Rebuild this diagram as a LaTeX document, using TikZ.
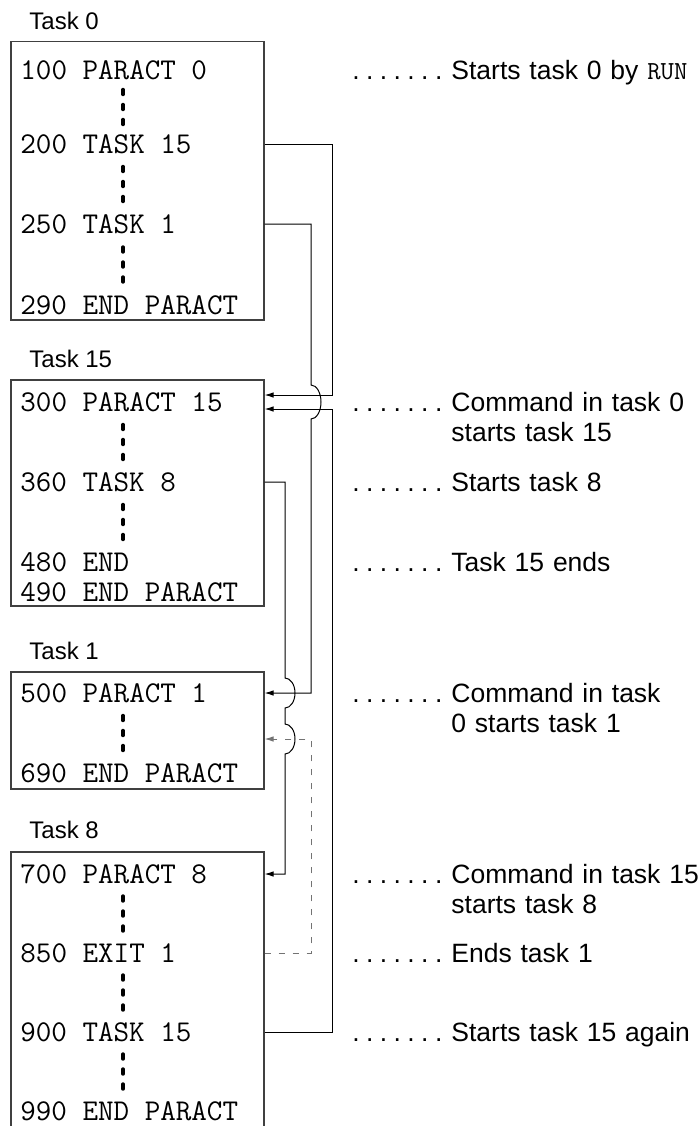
\documentclass[tikz,border=0pt]{standalone}
\usepackage{fontspec}
\newfontfamily\labelfont{Liberation Sans}
\usetikzlibrary{arrows.meta,calc,fit}
\frenchspacing

\tikzset{
  taskbox/.style={draw=black!75, line width=0.6pt, inner sep=0pt},
  code/.style={font=\ttfamily\fontsize{15.1}{18}\selectfont, anchor=west, inner sep=0pt},
  title/.style={font=\labelfont\fontsize{12}{14}\selectfont, anchor=west, inner sep=0pt},
  note/.style={font=\labelfont\fontsize{13.25}{15}\selectfont, anchor=base west, inner sep=0pt, text width=150pt, align=left},
  leader/.style={font=\labelfont\fontsize{13.25}{15}\selectfont, anchor=base west, inner sep=0pt},
  link/.style={line width=0.5pt, -{Latex[length=4.5pt,width=2.8pt]}},
  exitlink/.style={link, draw=black!55, dash pattern=on 3pt off 4pt},
  vdot/.style={line width=1.7pt, line cap=round},
}

\begin{document}
\begin{tikzpicture}[x=0.5pt, y=-0.5pt]
  \useasboundingbox (0,0) rectangle (699,1126);
  \clip (0,0) rectangle (699,1126);

  % columns of the connectors
  \coordinate (colA) at (285,0);
  \coordinate (colB) at (311,0);
  \coordinate (colC) at (332,0);

  % task 0
  \node[title] (h0) at (29,21) {Task 0};
  \node[taskbox, fit={(11,41.5) (264,320)}] (t0) {};
  \node[code] (l100) at (20,70) {100 PARACT 0};
  \node[code] (l200) at (20,144) {200 TASK 15};
  \node[code] (l250) at (20,224) {250 TASK 1};
  \node[code] (l290) at (20,305) {290 END PARACT};

  % task 15
  \node[title] (h15) at (29,359) {Task 15};
  \node[taskbox, fit={(11,380) (264,606)}] (t15) {};
  \node[code] (l300) at (20,402) {300 PARACT 15};
  \node[code] (l360) at (20,482) {360 TASK 8};
  \node[code] (l480) at (20,562) {480 END};
  \node[code] (l490) at (20,592) {490 END PARACT};

  % task 1
  \node[title] (h1) at (29,651) {Task 1};
  \node[taskbox, fit={(11,672) (264,789)}] (t1) {};
  \node[code] (l500) at (20,693) {500 PARACT 1};
  \node[code] (l690) at (20,773) {690 END PARACT};

  % task 8
  \node[title] (h8) at (29,830) {Task 8};
  \node[taskbox, fit={(11,852) (264,1140)}] (t8) {};
  \node[code] (l700) at (20,874) {700 PARACT 8};
  \node[code] (l850) at (20,953) {850 EXIT 1};
  \node[code] (l900) at (20,1032) {900 TASK 15};
  \node[code] (l990) at (20,1111) {990 END PARACT};

  % skipped lines
  \foreach \a/\b in {l100/l200, l200/l250, l250/l290, l300/l360, l360/l480, l500/l690, l700/l850, l850/l900, l900/l990}
    \foreach \k in {-15,0,15}
      \draw[vdot] ($(\a.west)!0.5!(\b.west)+(103,\k-2.5)$) -- ++(0,5);

  % comments on the right
  \foreach \n/\t in {l100/{Starts task 0 by {\ttfamily\fontsize{13}{15}\selectfont RUN}},
                     l300/{Command in task 0\\starts task 15},
                     l360/{Starts task 8},
                     l480/{Task 15 ends},
                     l500/{Command in task\\0 starts task 1},
                     l700/{Command in task 15\\starts task 8},
                     l850/{Ends task 1},
                     l900/{Starts task 15 again}}
  {
    \node[leader] (d\n) at ($(\n.west)+(332,9.5)$)
      {.\hskip3.2pt.\hskip3.2pt.\hskip3.2pt.\hskip3.2pt.\hskip3.2pt.\hskip3.2pt.};
    \node[note] (n\n) at ($(\n.west)+(431,9.5)$) {\t};
  }

  % arrow ends on the boxes
  \coordinate (p300a) at ($(l300 -| t15.east)+(0,-7)$);
  \coordinate (p300b) at ($(l300 -| t15.east)+(0,7)$);
  \coordinate (p500b) at ($(l500 -| t1.east)+(0,46)$);

  \draw[link] (l200 -| t0.east) -| (colC |- p300a) -- (p300a);
  \draw[link] (l250 -| t0.east) -| ($(colB |- l300)+(0,-17)$)
    arc[start angle=90, end angle=-90, x radius=5pt, y radius=8.5pt] |- (l500 -| t1.east);
  \draw[link] (l360 -| t15.east) -| ($(colA |- l500)+(0,-15)$)
    arc[start angle=90, end angle=-90, x radius=5pt, y radius=7.5pt]
    -- ($(colA |- p500b)+(0,-15)$)
    arc[start angle=90, end angle=-90, x radius=5pt, y radius=7.5pt] |- (l700 -| t8.east);
  \draw[exitlink] (l850 -| t8.east) -| (colB |- p500b) -- (p500b);
  \draw[link] (l900 -| t8.east) -| (colC |- p300b) -- (p300b);
\end{tikzpicture}
\end{document}
